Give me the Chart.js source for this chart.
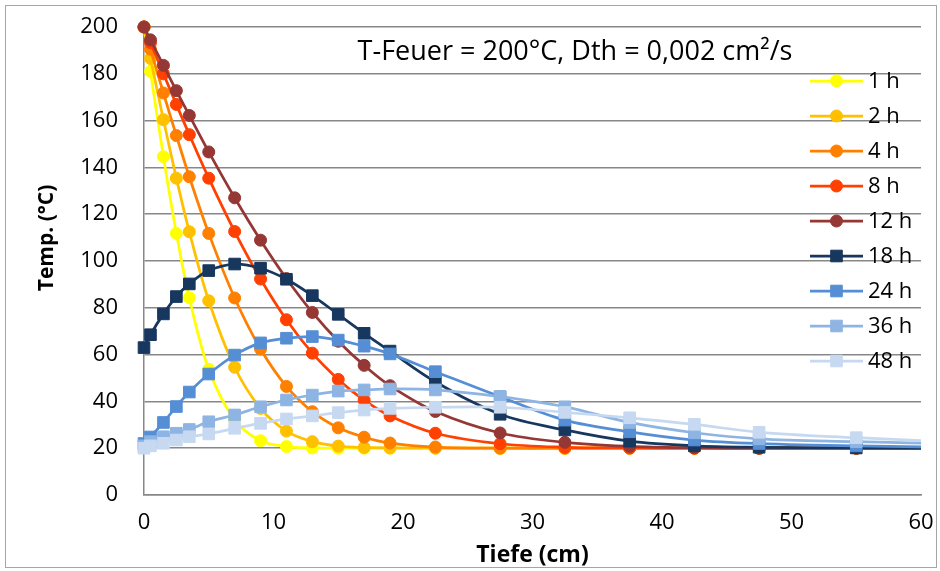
<!DOCTYPE html>
<html>
<head>
<meta charset="utf-8">
<script src="https://cdn.jsdelivr.net/npm/chart.js@4.4.1/dist/chart.umd.min.js"></script>
<style>
  html, body { margin: 0; padding: 0; background: #fff; }
  #wrap { width: 940px; height: 571px; }
</style>
</head>
<body>
<div id="wrap"><canvas id="chart" width="940" height="571"></canvas></div>
<script>
// Tiefe (cm) - same sample positions for every curve
const depth = [0, 0.5, 1.5, 2.5, 3.5, 5, 7, 9, 11, 13, 15, 17, 19, 22.5, 27.5, 32.5, 37.5, 42.5, 47.5, 55, 65];

// Temperatur (°C) per time step
const t1h  = [200, 181, 144.6, 111.8, 84.3, 53.7, 32, 23.2, 20.7, 20.1, 20, 20, 20, 20, 20, 20, 20, 20, 20, 20, 20];
const t2h  = [200, 186.6, 160.4, 135.4, 112.5, 83, 54.6, 37, 27.3, 22.8, 20.9, 20.3, 20.1, 20, 20, 20, 20, 20, 20, 20, 20];
const t4h  = [200, 190.5, 171.8, 153.6, 136, 111.8, 84.2, 62.4, 46.4, 35.6, 28.7, 24.7, 22.2, 20.5, 20, 20, 20, 20, 20, 20, 20];
const t8h  = [200, 193.3, 180, 166.9, 154, 135.4, 112.6, 92.3, 74.9, 60.6, 49.4, 40.5, 33.8, 26.4, 21.9, 20.4, 20.1, 20, 20, 20, 20];
const t12h = [200, 194.5, 183.6, 172.8, 162.2, 146.6, 127, 108.9, 92.5, 78, 65.7, 55.4, 46.7, 35.7, 26.5, 22.5, 20.8, 20.2, 20, 20, 20];
const t18h = [63, 68.5, 77.4, 84.8, 90.2, 95.9, 98.7, 96.9, 92.2, 85.2, 77.2, 69.1, 61.5, 48.4, 34.5, 27.8, 23, 21, 20.4, 20.1, 20];
const t24h = [22, 24.8, 31, 37.8, 44, 51.7, 59.8, 65, 67, 67.7, 66.2, 63.6, 60.3, 52.7, 42, 32, 27, 23.5, 22, 21, 20.3];
const t36h = [21, 22.8, 24.9, 26.4, 28, 31.3, 34.2, 37.7, 40.6, 42.7, 44.4, 44.9, 45.3, 44.9, 42, 37.7, 31, 26.6, 24, 22.8, 21.5];
const t48h = [20, 21, 22.1, 23.5, 24.9, 26.1, 28.5, 30.6, 32.5, 33.8, 35.2, 36.3, 37, 37.5, 37.5, 35.3, 33, 30.2, 26.8, 24.5, 22];

const labels = ["1 h", "2 h", "4 h", "8 h", "12 h", "18 h", "24 h", "36 h", "48 h"];
const values = [t1h, t2h, t4h, t8h, t12h, t18h, t24h, t36h, t48h];
const colors = ["#FFFF00", "#FFC000", "#FF8000", "#FF4000", "#953735", "#17375E", "#558ED5", "#8EB4E3", "#C6D9F1"];
const markers = ["circle", "circle", "circle", "circle", "circle", "rect", "rect", "rect", "rect"];

const xTicks = [0, 10, 20, 30, 40, 50, 60];
const yTicks = [0, 20, 40, 60, 80, 100, 120, 140, 160, 180, 200];

const chartTitle = "T-Feuer = 200°C, Dth = 0,002 cm²/s";
const yTitle = "Temp. (°C)";
const FONT = "'Open Sans', 'DejaVu Sans', sans-serif";
const GRID = "#878787";

const datasets = labels.map((lbl, i) => ({
    label: lbl,
    data: depth.map((d, k) => ({ x: d, y: values[i][k] })),
    showLine: true,
    borderColor: colors[i],
    backgroundColor: colors[i],
    borderWidth: 2.75,
    tension: 0.35,
    pointStyle: markers[i],
    pointRadius: markers[i] === "rect" ? 8.2 : 6,
    pointBorderWidth: 1,
    pointBorderColor: colors[i],
    pointBackgroundColor: colors[i],
    clip: { left: 12, top: 12, right: 0, bottom: 12 },
    order: labels.length - i   // later series on top, like the original
}));

// frame around the whole chart
const frame = {
    id: "frame",
    beforeDraw(chart) {
        const c = chart.ctx;
        c.save();
        c.fillStyle = "#fff";
        c.fillRect(0, 0, chart.width, chart.height);
        c.strokeStyle = "#a6a6a6";
        c.lineWidth = 1;
        c.strokeRect(5.5, 5.5, chart.width - 9, chart.height - 9);
        c.restore();
    }
};

// title text, y title (sits a bit above centre in the original) + legend inside the plot
const insideText = {
    id: "insideText",
    afterDraw(chart) {
        const c = chart.ctx;
        const area = chart.chartArea;
        c.save();
        c.fillStyle = "#000";
        c.font = "27px " + FONT;
        c.textAlign = "center";
        c.textBaseline = "middle";
        c.fillText(chartTitle, area.left + 431, area.top + 25);

        c.save();
        c.translate(area.left - 97, area.top + 211);
        c.rotate(-Math.PI / 2);
        c.font = "bold 21px " + FONT;
        c.fillText(yTitle, 0, 0);
        c.restore();

        c.font = "22px " + FONT;
        const x0 = area.left + 666, x1 = area.left + 719;
        chart.data.datasets.forEach((ds, i) => {
            const y = area.top + 54 + i * 35;
            c.strokeStyle = ds.borderColor;
            c.lineWidth = ds.borderWidth;
            c.beginPath();
            c.moveTo(x0, y);
            c.lineTo(x1, y);
            c.stroke();
            c.fillStyle = ds.pointBackgroundColor;
            c.strokeStyle = ds.pointBorderColor;
            c.lineWidth = 1;
            c.beginPath();
            if (ds.pointStyle === "rect") {
                const s = ds.pointRadius * Math.SQRT1_2;
                c.rect((x0 + x1) / 2 - s, y - s, 2 * s, 2 * s);
            } else {
                c.arc((x0 + x1) / 2, y, ds.pointRadius, 0, Math.PI * 2);
            }
            c.fill();
            c.stroke();
            c.fillStyle = "#000";
            c.textAlign = "left";
            c.fillText(ds.label, x1 + 5, y + 1);
        });
        c.restore();
    }
};

new Chart(document.getElementById("chart").getContext("2d"), {
    type: "scatter",
    data: { datasets },
    options: {
        responsive: false,
        animation: false,
        layout: { padding: { left: 10, right: 19, top: 27, bottom: 2 } },
        plugins: {
            legend: { display: false },
            tooltip: { enabled: false }
        },
        scales: {
            x: {
                type: "linear",
                min: 0,
                max: 60,
                afterBuildTicks: (s) => { s.ticks = xTicks.map(v => ({ value: v })); },
                afterFit: (s) => { s.height = 74; },
                grid: { display: false, drawTicks: true, tickLength: 12, tickColor: "rgba(0,0,0,0)" },
                border: { display: true, color: GRID, width: 1.5 },
                ticks: { color: "#000", font: { family: FONT, size: 22 }, padding: 3, maxRotation: 0 },
                title: { display: true, text: "Tiefe (cm)", color: "#000", font: { family: FONT, size: 23, weight: "bold" }, padding: { bottom: 0 } }
            },
            y: {
                type: "linear",
                min: 0,
                max: 200,
                afterBuildTicks: (s) => { s.ticks = yTicks.map(v => ({ value: v })); },
                afterFit: (s) => { s.width = 134; },
                grid: { display: true, color: GRID, lineWidth: 1.5, drawTicks: true, tickLength: 23, tickColor: "rgba(0,0,0,0)" },
                border: { display: true, color: GRID, width: 1.5 },
                ticks: { color: "#000", font: { family: FONT, size: 22 }, padding: 3 },
                title: { display: false }
            }
        }
    },
    plugins: [frame, insideText]
});
</script>
</body>
</html>
